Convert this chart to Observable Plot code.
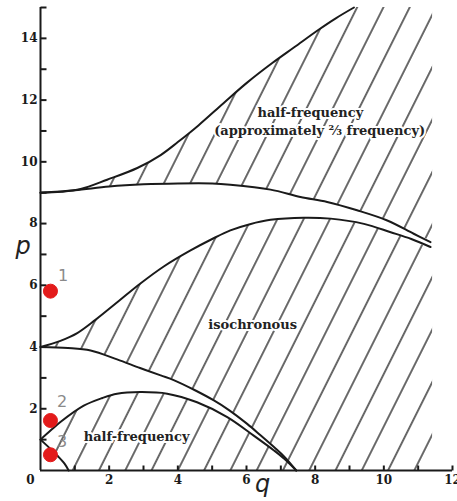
<!DOCTYPE html>
<html><head><meta charset="utf-8">
<script src="https://cdn.jsdelivr.net/npm/d3@7"></script>
<script src="https://cdn.jsdelivr.net/npm/@observablehq/plot@0.6"></script>
<style>html,body{margin:0;padding:0;background:#fff}#chart svg{display:block}</style>
</head><body><div id="chart"></div>
<script>
// Domains and ticks
const qDomain = [0, 12];
const pDomain = [0, 15];
const xTickLabels = [2, 4, 6, 8, 10, 12];
const xTicksAll = [1, 2, 3, 4, 5, 6, 7, 8, 9, 10, 11, 12];
const yTickLabels = [2, 4, 6, 8, 10, 12, 14];
const yTicksAll = [1, 2, 3, 4, 5, 6, 7, 8, 9, 10, 11, 12, 13, 14, 15];
const originLabel = [0];

// Boundary curves
const b1Q = [0, 0.3, 0.5, 0.7, 0.82];
const b1P = [1.0, 0.69, 0.47, 0.22, 0];
const a1Q = [0, 0.3, 0.58, 1.26, 1.8, 2.23, 2.91, 3.69, 4.56, 5.44, 6.21, 6.8, 7.1, 7.45];
const a1P = [1.0, 1.3, 1.57, 2.1, 2.35, 2.49, 2.54, 2.49, 2.21, 1.73, 1.13, 0.65, 0.38, 0];
const b2Q = [0, 0.8, 1.46, 2.23, 2.9, 3.5, 3.88, 4.5, 5.05, 5.5, 6.02, 6.4, 6.8, 7.1, 7.45];
const b2P = [4.0, 3.97, 3.89, 3.6, 3.32, 3.08, 2.93, 2.6, 2.27, 1.95, 1.51, 1.15, 0.76, 0.45, 0];
const a2Q = [0, 0.58, 1.07, 1.6, 2.28, 2.9, 3.59, 4.37, 5.0, 5.53, 6.1, 6.7, 7.67, 8.45, 9.42, 10.2, 10.8, 11.36];
const a2P = [4.0, 4.2, 4.45, 4.88, 5.49, 6.05, 6.61, 7.13, 7.5, 7.78, 7.98, 8.12, 8.19, 8.16, 7.99, 7.72, 7.5, 7.24];
const b3Q = [0, 1, 2, 3, 4, 5, 5.53, 6.7, 7.57, 8.35, 9.22, 10.1, 10.87, 11.36];
const b3P = [9.0, 9.08, 9.2, 9.27, 9.3, 9.3, 9.26, 9.1, 8.86, 8.7, 8.43, 8.1, 7.67, 7.4];
const a3Q = [0, 0.6, 1.17, 1.94, 2.82, 3.5, 4.0, 4.6, 5.33, 6.0, 6.75, 7.4, 8.1, 8.6, 9.13];
const a3P = [9.0, 9.03, 9.12, 9.42, 9.8, 10.22, 10.64, 11.18, 11.9, 12.55, 13.2, 13.72, 14.28, 14.65, 15.0];

// Hatched extent
const hatchQ = [0, 11.42];
const hatchP = [0, 15];

// Region labels
const regionLabels = ["half-frequency", "(approximately ⅔ frequency)", "isochronous", "half-frequency"];
const regionLabelQ = [7.86, 8.13, 6.18, 2.8];
const regionLabelP = [11.6, 11.02, 4.73, 1.1];

// Red markers
const markerNames = ["1", "2", "3"];
const markerQ = [0.29, 0.29, 0.29];
const markerP = [5.81, 1.62, 0.51];
const markerLabelQ = [0.66, 0.63, 0.63];
const markerLabelP = [6.29, 2.21, 0.92];

// Layout
const W = 457, H = 501, mL = 40, mR = 5, mT = 7, mB = 31;
const tickPx = {x: 5, y: 6};
const tickLenP = tickPx.x * (pDomain[1] - pDomain[0]) / (H - mT - mB);
const tickLenQ = tickPx.y * (qDomain[1] - qDomain[0]) / (W - mL - mR);

const pts = (qs, ps) => qs.map((q, i) => ({q, p: ps[i]}));
const curves = [pts(b1Q, b1P), pts(a1Q, a1P), pts(b2Q, b2P), pts(a2Q, a2P), pts(b3Q, b3P), pts(a3Q, a3P)];

const whiteBelowB1 = [{q: qDomain[0], p: pDomain[0]}, ...pts(b1Q, b1P).reverse()];
const whiteA1B2 = [...pts(a1Q, a1P), ...pts(b2Q, b2P).reverse()];
const whiteA2B3 = [...pts(a2Q, a2P), ...pts(b3Q, b3P).reverse()];
const whiteAboveA3 = [...pts(a3Q, a3P), {q: a3Q[0], p: pDomain[1]}];

const labels = regionLabels.map((t, i) => ({t, q: regionLabelQ[i], p: regionLabelP[i]}));
const markers = markerNames.map((n, i) => ({n, q: markerQ[i], p: markerP[i], lq: markerLabelQ[i], lp: markerLabelP[i]}));
const xTickRows = xTicksAll.map(q => ({q, p1: pDomain[0], p2: pDomain[0] + tickLenP}));
const yTickRows = yTicksAll.map(p => ({p, q1: qDomain[0], q2: qDomain[0] + tickLenQ}));

const serif = "DejaVu Serif";
const ink = "#1a1a1a";

const plot = Plot.plot({
  width: W,
  height: H,
  marginLeft: mL,
  marginRight: mR,
  marginTop: mT,
  marginBottom: mB,
  x: {domain: qDomain},
  y: {domain: pDomain},
  style: {fontFamily: serif, fontSize: "12px", color: ink, background: "white"},
  marks: [
    Plot.rect([{x1: hatchQ[0], x2: hatchQ[1], y1: hatchP[0], y2: hatchP[1]}], {x1: "x1", x2: "x2", y1: "y1", y2: "y2", fill: "url(#hatch)"}),
    ...[whiteBelowB1, whiteA1B2, whiteA2B3, whiteAboveA3].map(poly =>
      Plot.line(poly, {x: "q", y: "p", fill: "white", stroke: "white", strokeWidth: 1, curve: "catmull-rom"})),
    ...curves.map(c => Plot.line(c, {x: "q", y: "p", stroke: ink, strokeWidth: 2, curve: "catmull-rom"})),
    Plot.link(xTickRows, {x1: "q", x2: "q", y1: "p1", y2: "p2", stroke: ink, strokeWidth: 2}),
    Plot.link(yTickRows, {y1: "p", y2: "p", x1: "q1", x2: "q2", stroke: ink, strokeWidth: 2}),
    Plot.ruleX([qDomain[0]], {stroke: ink, strokeWidth: 2}),
    Plot.ruleY([pDomain[0]], {stroke: ink, strokeWidth: 2}),
    Plot.axisX({ticks: xTickLabels, tickSize: 0, tickPadding: 5, fontSize: 12, fontWeight: "bold", fill: ink, label: null}),
    Plot.axisY({ticks: yTickLabels, tickSize: 0, tickPadding: 3, fontSize: 12, fontWeight: "bold", fill: ink, label: null}),
    Plot.text(originLabel, {x: d => d, y: d => d, text: d => String(d), dx: -10, dy: 10, fontSize: 12, fontWeight: "bold", fill: ink}),
    Plot.text(["q"], {frameAnchor: "bottom", text: d => d, dx: 16, dy: 21, fontSize: 24, fontFamily: "DejaVu Sans", fontStyle: "italic", fill: "#222"}),
    Plot.text(["p"], {frameAnchor: "left", text: d => d, dx: -25, dy: 7, fontSize: 24, fontFamily: "DejaVu Sans", fontStyle: "italic", fill: "#222"}),
    Plot.text(labels, {x: "q", y: "p", text: "t", fontSize: 13, fontWeight: "bold", fill: "#222", stroke: "white", strokeWidth: 4, paintOrder: "stroke"}),
    Plot.dot(markers, {x: "q", y: "p", r: 7, fill: "#e31b1b", stroke: "#e31b1b", strokeWidth: 1}),
    Plot.text(markers, {x: "lq", y: "lp", text: "n", fontSize: 16, fontFamily: "DejaVu Sans", fill: "#8a8a8a"})
  ]
});

const ns = "http://www.w3.org/2000/svg";
const defs = document.createElementNS(ns, "defs");
const pat = document.createElementNS(ns, "pattern");
pat.setAttribute("id", "hatch");
pat.setAttribute("patternUnits", "userSpaceOnUse");
pat.setAttribute("width", "23.5");
pat.setAttribute("height", "23.5");
pat.setAttribute("patternTransform", "translate(6,0) rotate(26.6)");
const ln = document.createElementNS(ns, "line");
ln.setAttribute("x1", "11.75"); ln.setAttribute("x2", "11.75");
ln.setAttribute("y1", "-1"); ln.setAttribute("y2", "24.5");
ln.setAttribute("stroke", "#1a1a1a");
ln.setAttribute("stroke-width", "1.3");
pat.appendChild(ln);
defs.appendChild(pat);
plot.insertBefore(defs, plot.firstChild);
document.getElementById("chart").appendChild(plot);
</script>
</body></html>
